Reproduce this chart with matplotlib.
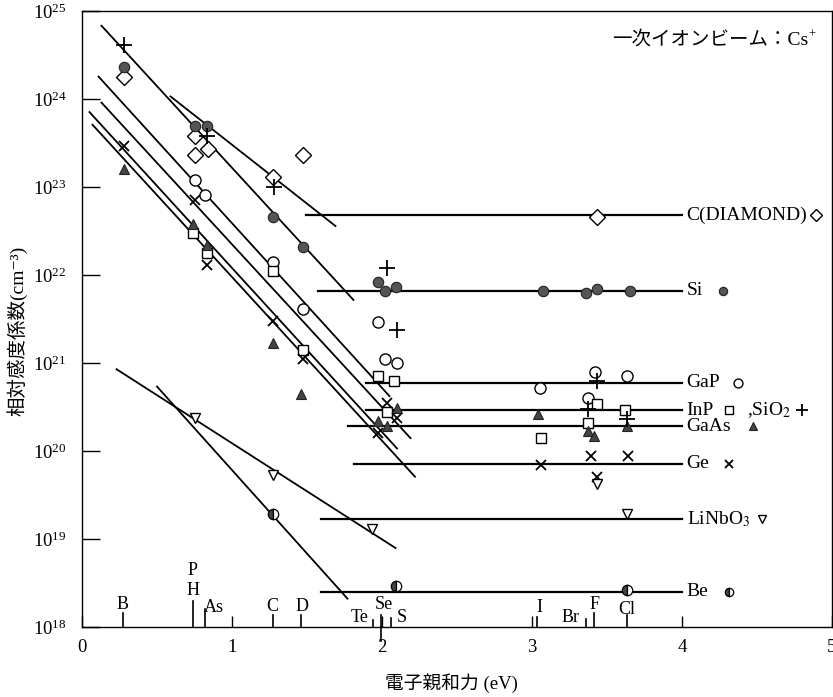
import numpy as np
import matplotlib.pyplot as plt
from matplotlib.ticker import LogLocator, NullLocator
from matplotlib.transforms import blended_transform_factory

plt.rcParams['font.family'] = ['Liberation Serif', 'Noto Sans CJK JP', 'DejaVu Serif']
plt.rcParams['mathtext.fontset'] = 'stix'

# ---- measured relative sensitivity factors (cm^-3) vs electron affinity (eV)
diamond_x = [0.28, 0.75, 0.84, 0.75, 1.27, 1.47, 3.43]
diamond_y = [1.8e24, 3.8e23, 2.7e23, 2.3e23, 1.3e23, 2.3e23, 4.6e22]

si_x = [0.28, 0.75, 0.83, 1.27, 1.47, 1.97, 2.02, 2.09, 3.07, 3.36, 3.43, 3.65]
si_y = [2.3e24, 4.9e23, 4.9e23, 4.6e22, 2.1e22, 8.3e21, 6.5e21, 7.4e21,
        6.5e21, 6.2e21, 6.9e21, 6.5e21]

sio2_x = [0.28, 0.83, 1.28, 2.03, 2.10, 3.43, 3.37, 3.63]
sio2_y = [4.1e24, 3.8e23, 1.0e23, 1.2e22, 2.4e21, 6.2e20, 3.0e20, 2.3e20]

gap_x = [0.75, 0.82, 1.27, 1.47, 1.97, 2.02, 2.10, 3.05, 3.42, 3.63, 3.37]
gap_y = [1.2e23, 8.1e22, 1.4e22, 4.1e21, 2.9e21, 1.1e21, 1.0e21, 5.2e20,
         7.8e20, 7.1e20, 4.0e20]

inp_x = [0.74, 0.83, 1.27, 1.47, 1.97, 2.08, 2.03, 3.06, 3.37, 3.43, 3.62]
inp_y = [3.0e22, 1.8e22, 1.1e22, 1.4e21, 7.1e20, 6.2e20, 2.8e20, 1.4e20,
         2.1e20, 3.4e20, 2.9e20]

gaas_x = [0.28, 0.74, 0.83, 1.27, 1.46, 1.97, 2.03, 2.10, 3.04, 3.37, 3.41, 3.63]
gaas_y = [1.6e23, 3.8e22, 2.2e22, 1.7e21, 4.5e20, 2.2e20, 1.9e20, 3.1e20,
          2.6e20, 1.7e20, 1.5e20, 1.9e20]

ge_x = [0.28, 0.75, 0.83, 1.27, 1.47, 2.03, 2.10, 1.97, 3.06, 3.39, 3.64, 3.43]
ge_y = [2.9e23, 7.2e22, 1.3e22, 3.0e21, 1.1e21, 3.5e20, 2.4e20, 1.6e20,
        6.9e19, 8.7e19, 8.7e19, 5.0e19]

linbo3_x = [0.75, 1.27, 1.93, 3.63, 3.43]
linbo3_y = [2.4e20, 5.4e19, 1.3e19, 1.9e19, 4.2e19]

be_x = [1.27, 2.09, 3.63]
be_y = [1.9e19, 2.9e18, 2.6e18]

# fitted lines: sloped part (x0, y0, x1, y1)
slopes = [
    (0.13, 6.8e24, 1.81, 5.2e21),   # Si
    (0.59, 1.07e24, 1.69, 3.6e22),  # C(DIAMOND)
    (0.11, 1.8e24, 2.05, 4.2e20),   # GaP
    (0.13, 9.1e23, 2.19, 1.4e20),
    (0.05, 7.1e23, 2.10, 1.07e20),
    (0.07, 5.1e23, 2.22, 5.1e19),
    (0.23, 8.5e20, 2.09, 7.9e18),   # LiNbO3
    (0.50, 5.4e20, 1.77, 2.1e18),   # Be
]

# flat part of each material: level, start x (all run to 4 eV)
flat_names = ['C(DIAMOND)', 'Si', 'GaP', 'InP', 'GaAs', 'Ge', 'LiNbO$_3$', 'Be']
flat_level = [4.8e22, 6.6e21, 6.0e20, 2.9e20, 1.9e20, 7.2e19, 1.7e19, 2.5e18]
flat_start = [1.49, 1.57, 1.89, 1.89, 1.77, 1.81, 1.59, 1.59]
flat_end = 4.0

# electron affinities of dopant elements
elem_line_x = [0.27, 0.74, 0.82, 1.27, 1.46, 1.94, 1.99, 2.06, 3.03, 3.36, 3.41, 3.63]
elem_line_h = [0.023, 0.042, 0.029, 0.020, 0.020, 0.011, 0.020, 0.015, 0.016, 0.013, 0.023, 0.020]
elem_names = ['B', 'P', 'H', 'As', 'C', 'D', 'Te', 'Se', 'S', 'I', 'Br', 'F', 'Cl']
elem_lab_x = [0.27, 0.74, 0.74, 0.88, 1.27, 1.47, 1.85, 2.01, 2.13, 3.05, 3.26, 3.42, 3.63]
elem_lab_y = [0.036, 0.092, 0.060, 0.032, 0.034, 0.034, 0.016, 0.036, 0.015, 0.032, 0.016, 0.037, 0.028]

open_m = dict(mfc='white', mec='black', ls='none', zorder=4)
styles = {
    'diamond': dict(marker='D', ms=8, mew=1.0, **open_m),
    'si': dict(marker='o', ms=7.5, mfc='#555555', mec='#222222', mew=0.8, ls='none', zorder=4),
    'sio2': dict(marker='+', ms=11, mew=1.3, color='black', ls='none', zorder=4),
    'gap': dict(marker='o', ms=8, mew=1.0, **open_m),
    'inp': dict(marker='s', ms=7.5, mew=1.0, **open_m),
    'gaas': dict(marker='^', ms=7, mfc='#444444', mec='#222222', mew=0.8, ls='none', zorder=4),
    'ge': dict(marker='x', ms=7.5, mew=1.3, color='black', ls='none', zorder=4),
    'linbo3': dict(marker='v', ms=7, mew=1.0, **open_m),
    'be': dict(marker='o', ms=7.5, fillstyle='left', mfc='#444444', mfcalt='white',
               mec='black', mew=0.9, ls='none', zorder=4),
}

fig = plt.figure(figsize=(8.33, 6.97), dpi=100)
ax = fig.add_axes([82 / 833, 70 / 697, 750 / 833, 616 / 697])
ax.set_yscale('log')
ax.set_xlim(0, 5)
ax.set_ylim(1e18, 1e25)

for x0, y0, x1, y1 in slopes:
    ax.plot([x0, x1], [y0, y1], color='black', lw=1.3, zorder=2)
for lev, xs in zip(flat_level, flat_start):
    ax.plot([xs, flat_end], [lev, lev], color='black', lw=1.6, zorder=2)

ax.plot(diamond_x, diamond_y, **styles['diamond'])
ax.plot(si_x, si_y, **styles['si'])
ax.plot(gap_x, gap_y, **styles['gap'])
ax.plot(inp_x, inp_y, **styles['inp'])
ax.plot(gaas_x, gaas_y, **styles['gaas'])
ax.plot(ge_x, ge_y, **styles['ge'])
ax.plot(sio2_x, sio2_y, **styles['sio2'])
ax.plot(linbo3_x, linbo3_y, **styles['linbo3'])
ax.plot(be_x, be_y, **styles['be'])

# material labels at the right end of the flat lines, with their symbols
for name, lev in zip(flat_names, flat_level):
    ax.text(4.03, lev, name, fontsize=14, va='center', ha='left')
ax.text(4.43, flat_level[3], ',SiO$_2$', fontsize=14, va='center', ha='left')
key_x = [4.89, 4.27, 4.37, 4.31, 4.80, 4.47, 4.31, 4.53, 4.31]
key_y = [flat_level[0], flat_level[1], flat_level[2], flat_level[3], flat_level[3],
         flat_level[4], flat_level[5], flat_level[6], flat_level[7]]
key_style = ['diamond', 'si', 'gap', 'inp', 'sio2', 'gaas', 'ge', 'linbo3', 'be']
for kx, ky, ks in zip(key_x, key_y, key_style):
    st = dict(styles[ks])
    st['ms'] = st['ms'] * 0.8
    ax.plot([kx], [ky], clip_on=False, **st)

# element electron-affinity marks along the bottom axis
trans = blended_transform_factory(ax.transData, ax.transAxes)
for ex, eh in zip(elem_line_x, elem_line_h):
    ax.plot([ex, ex], [0, eh], color='black', lw=1.2, transform=trans)
ax.plot([1.99, 1.99], [-0.022, 0.0], color='black', lw=1.2, transform=trans, clip_on=False)
for name, lx, ly in zip(elem_names, elem_lab_x, elem_lab_y):
    ax.text(lx, ly, name, fontsize=13, ha='center', va='center', transform=trans)

# primary ion beam note (plain text + separate superscript so CJK fallback works)
ax.text(0.968, 0.953, '一次イオンビーム：Cs', fontsize=14, ha='right', va='center',
        transform=ax.transAxes)
ax.text(0.969, 0.961, '+', fontsize=9, ha='left', va='center', transform=ax.transAxes)

ax.yaxis.set_major_locator(LogLocator(base=10, numticks=10))
ax.yaxis.set_minor_locator(NullLocator())
ax.set_xticks([0, 1, 2, 3, 4, 5])
ax.tick_params(axis='y', direction='in', length=13, width=1.0, labelsize=13.5, pad=11)
ax.tick_params(axis='x', direction='in', length=8, width=1.0, labelsize=13.5, pad=9)
for sp in ax.spines.values():
    sp.set_linewidth(1.0)

ax.set_ylabel('相対感度係数(cm⁻³)', fontsize=14)
ax.yaxis.set_label_coords(-0.073, 0.48)
ax.set_xlabel('電子親和力 (eV)', fontsize=13.5)
ax.xaxis.set_label_coords(0.492, -0.075)

fig.savefig('out.png', dpi=100)
